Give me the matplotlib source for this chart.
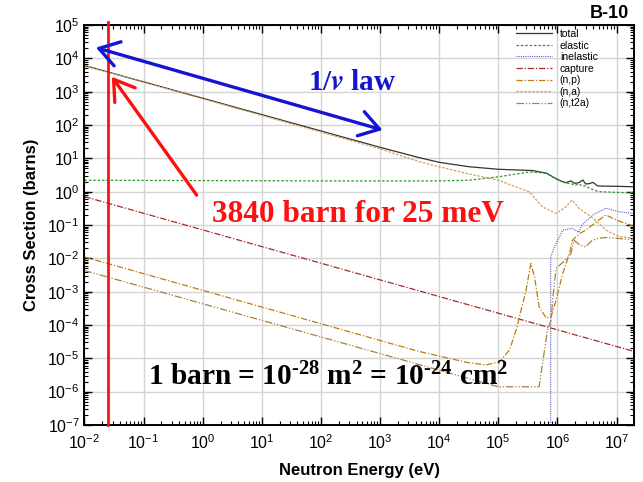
import matplotlib
matplotlib.use("Agg")
import matplotlib.pyplot as plt
from matplotlib.ticker import LogLocator, NullFormatter

# B-10 neutron cross sections (energy in eV, sigma in barns)
tot_e = [1e-2, 1e3, 4.6e3, 1e4, 3.2e4, 1e5, 3.8e5, 6.5e5, 8.3e5, 1.07e6, 1.38e6, 1.7e6,
         1.95e6, 2.3e6, 2.7e6, 3.0e6, 3.5e6, 4.0e6, 4.8e6, 1e7, 2e7]
tot_s = [6100, 21.4, 10.5, 7.6, 5.6, 4.7, 4.3, 3.6, 2.8, 2.2, 1.86, 2.1,
         1.78, 1.85, 2.24, 1.7, 1.75, 1.9, 1.48, 1.45, 1.4]

el_e = [1e-2, 1e2, 1e4, 3.2e4, 1e5, 3.4e5, 6.5e5, 9.5e5, 1.38e6, 1.7e6, 2.0e6, 2.3e6,
        2.7e6, 3.0e6, 3.5e6, 5e6, 1e7, 2e7]
el_s = [2.2, 2.1, 2.1, 2.2, 2.8, 3.9, 3.6, 2.4, 1.8, 1.75, 1.55, 1.7,
        1.45, 1.5, 1.25, 1.0, 0.95, 0.93]

inel_e = [7.7e5, 7.7e5, 8.9e5, 1.23e6, 1.8e6, 2.3e6, 2.6e6, 4e6, 6.6e6, 8.5e6, 1.1e7, 2e7]
inel_s = [1e-9, 0.011, 0.022, 0.07, 0.08, 0.06, 0.1, 0.2, 0.32, 0.28, 0.25, 0.22]

cap_e = [1e-2, 2e7]
cap_s = [0.71, 1.6e-5]

np_e = [1e-2, 4.6e3, 3e4, 6.2e4, 1.05e5, 1.55e5, 2.0e5, 2.95e5, 3.55e5, 4.1e5, 4.9e5,
        6.5e5, 7.8e5, 9.5e5, 1.23e6, 1.6e6, 1.8e6, 2.4e6, 3.0e6, 3.9e6, 5e6, 6.6e6, 1e7, 2e7]
np_s = [0.011, 1.6e-5, 7.5e-6, 6.3e-6, 7.9e-6, 1.8e-5, 7e-5, 1.1e-3, 7e-3, 2.8e-3, 3.5e-4,
        1.6e-4, 1.8e-4, 5.6e-4, 3.5e-3, 0.014, 0.035, 0.056, 0.07, 0.1, 0.14, 0.2, 0.14, 0.09]

na_e = [1e-2, 1e3, 4.6e3, 1e4, 3.2e4, 1e5, 3.3e5, 5.6e5, 9.5e5, 1.38e6, 1.78e6, 2.3e6,
        4e6, 6.6e6, 1.1e7, 2e7]
na_s = [6100, 19.3, 7.9, 5.6, 3.4, 2.2, 1.0, 0.35, 0.22, 0.35, 0.56, 0.32,
        0.16, 0.07, 0.045, 0.04]

nt_e = [1e-2, 1.0e5, 4.9e5, 6.8e5, 7.8e5, 8.3e5, 9.5e5, 1.38e6, 1.7e6, 1.9e6, 2.4e6,
        3.0e6, 3.9e6, 5e6, 6.6e6, 1e7, 2e7]
nt_s = [0.0043, 1.4e-6, 1.4e-6, 7e-5, 1.4e-4, 5.6e-4, 5e-3, 9e-3, 0.014, 0.035, 0.025,
        0.022, 0.035, 0.04, 0.042, 0.04, 0.035]

thermal_e = 0.0253

plt.rcParams["font.family"] = ["Liberation Sans", "DejaVu Sans"]
plt.rcParams["axes.unicode_minus"] = False
plt.rcParams["mathtext.rm"] = "Liberation Serif:bold"
plt.rcParams["mathtext.bf"] = "Liberation Serif:bold"
plt.rcParams["mathtext.it"] = "Liberation Serif:bold:italic"

fig = plt.figure(figsize=(6.43, 4.82), dpi=100)
ax = fig.add_axes([0.1314, 0.1183, 0.8551, 0.8298])

ax.plot(tot_e, tot_s, color="#333333", lw=0.9, label="total")
ax.plot(el_e, el_s, color="#2a9a2a", lw=0.9, ls=(0, (2, 1.5)), label="elastic")
ax.plot(inel_e, inel_s, color="#5a5ad0", lw=0.8, ls=(0, (1, 1)), label="inelastic")
ax.plot(cap_e, cap_s, color="#a52a2a", lw=0.9, ls=(0, (5, 1.5, 1, 1.5)), label="capture")
ax.plot(np_e, np_s, color="#c07a10", lw=0.9, ls=(0, (5, 1.5, 1, 1.5)), label="(n,p)")
ax.plot(na_e, na_s, color="#d2a060", lw=0.9, ls=(0, (2, 1.2)), label="(n,a)")
ax.plot(nt_e, nt_s, color="#a88040", lw=0.9, ls=(0, (6, 1.5, 1, 1.5, 1, 1.5)), label="(n,t2a)")

ax.set_xscale("log")
ax.set_yscale("log")
ax.set_xlim(1e-2, 2e7)
ax.set_ylim(1e-7, 1e5)
ax.xaxis.set_major_locator(LogLocator(base=10, numticks=20))
ax.yaxis.set_major_locator(LogLocator(base=10, numticks=20))
ax.xaxis.set_minor_locator(LogLocator(base=10, subs=range(2, 10), numticks=20))
ax.yaxis.set_minor_locator(LogLocator(base=10, subs=range(2, 10), numticks=20))
ax.xaxis.set_minor_formatter(NullFormatter())
ax.yaxis.set_minor_formatter(NullFormatter())
ax.tick_params(which="both", direction="in", top=True, right=True, labelsize=11.5)
ax.tick_params(which="major", length=6, width=1)
ax.tick_params(which="minor", length=3, width=0.8)
ax.tick_params(axis="x", which="major", pad=6)
ax.grid(True, which="major", color="#d4d4d4", lw=1)
ax.set_axisbelow(True)
for sp in ax.spines.values():
    sp.set_linewidth(1.4)

ax.set_xlabel("Neutron Energy (eV)", fontsize=12, fontweight="bold", labelpad=8)
ax.set_ylabel("Cross Section (barns)", fontsize=12, fontweight="bold", labelpad=6)
fig.text(0.978, 0.972, "B-10", ha="right", va="center", fontsize=13, fontweight="bold")

ax.legend(loc="upper left", bbox_to_anchor=(0.785, 0.99), frameon=False, fontsize=7.5,
          handlelength=3.4, handletextpad=0.8, labelspacing=0.15, borderpad=0,
          borderaxespad=0)

# thermal energy marker
ax.plot([thermal_e, thermal_e], [1e-7, 1.25e5], color="#ff1010", lw=2, clip_on=False, zorder=5)

# annotations
ax.annotate("", xy=(0.0156, 2.1e4), xytext=(1.1e3, 71),
            arrowprops=dict(arrowstyle="<->,head_length=0.7,head_width=0.45", color="#1414d2",
                            lw=2.4, mutation_scale=20, shrinkA=0, shrinkB=0), zorder=6)
ax.annotate("", xy=(0.029, 2800), xytext=(0.79, 0.79),
            arrowprops=dict(arrowstyle="->,head_length=0.7,head_width=0.45", color="#ff1010",
                            lw=2.4, mutation_scale=20, shrinkA=0, shrinkB=0), zorder=6)

ax.text(0.4865, 0.8575, r"1/$\mathbfit{v}$ law", transform=ax.transAxes, ha="center",
        va="center", fontsize=21, fontweight="bold", color="#1414d2",
        family="Liberation Serif", math_fontfamily="stix")
ax.text(0.498, 0.525, "3840 barn for 25 meV", transform=ax.transAxes, ha="center",
        va="center", fontsize=22.5, fontweight="bold", color="#ff1010", family="Liberation Serif")
ax.text(0.4438, 0.12, "1 barn = 10$^{\u2010\\mathbf{28}}$ m$^{\\mathbf{2}}$ = 10$^{\u2010\\mathbf{24}}$ cm$^{\\mathbf{2}}$",
        transform=ax.transAxes, ha="center", va="center", fontsize=21.2, fontweight="bold",
        color="black", family="Liberation Serif", math_fontfamily="custom")

fig.savefig("out.png", dpi=100)
